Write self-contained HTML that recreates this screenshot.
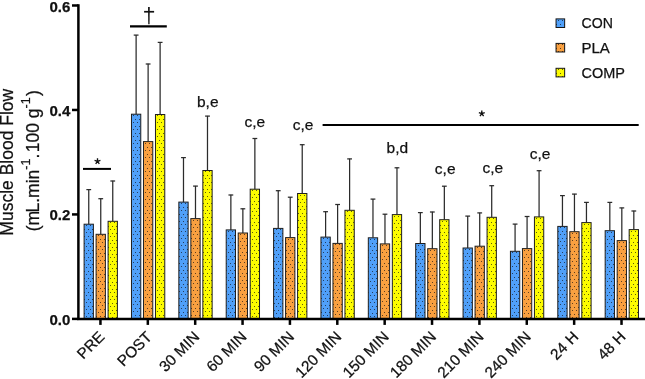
<!DOCTYPE html>
<html><head><meta charset="utf-8"><style>
html,body{margin:0;padding:0;background:#fff;}
body{width:645px;height:379px;overflow:hidden;}
svg{display:block;will-change:transform;font-family:"Liberation Sans",sans-serif;fill:#111;}
text{fill:#111;stroke:#111;stroke-width:0.25px;}
</style></head><body>
<svg width="645" height="379" viewBox="0 0 645 379">
<defs>
<pattern id="p0" width="4" height="7" patternUnits="userSpaceOnUse"><rect width="4" height="7" fill="#50a0f9"/><rect x="2" y="1" width="1" height="1" fill="#101010" opacity="0.68"/><rect x="0" y="5" width="1" height="1" fill="#101010" opacity="0.68"/></pattern>
<pattern id="p1" width="4" height="7" patternUnits="userSpaceOnUse"><rect width="4" height="7" fill="#f9a040"/><rect x="2" y="1" width="1" height="1" fill="#101010" opacity="0.68"/><rect x="0" y="5" width="1" height="1" fill="#101010" opacity="0.68"/></pattern>
<pattern id="p2" width="4" height="7" patternUnits="userSpaceOnUse"><rect width="4" height="7" fill="#fdfc00"/><rect x="2" y="1" width="1" height="1" fill="#101010" opacity="0.68"/><rect x="0" y="5" width="1" height="1" fill="#101010" opacity="0.68"/></pattern>
</defs>
<rect transform="translate(84,224)" x="0.1" y="0.2" width="9.3" height="94.7" fill="url(#p0)" stroke="#1e1e1e" stroke-width="1"/>
<line x1="88.75" y1="224.2" x2="88.75" y2="189.4" stroke="#2b2b2b" stroke-width="1.25"/>
<line x1="86.35" y1="189.6" x2="91.15" y2="189.6" stroke="#2b2b2b" stroke-width="1.25"/>
<rect transform="translate(96,234)" x="0.1" y="0.3" width="9.3" height="84.6" fill="url(#p1)" stroke="#1e1e1e" stroke-width="1"/>
<line x1="100.75" y1="234.3" x2="100.75" y2="198.5" stroke="#2b2b2b" stroke-width="1.25"/>
<line x1="98.35" y1="198.7" x2="103.15" y2="198.7" stroke="#2b2b2b" stroke-width="1.25"/>
<rect transform="translate(108,221)" x="0.1" y="0.3" width="9.3" height="97.6" fill="url(#p2)" stroke="#1e1e1e" stroke-width="1"/>
<line x1="112.75" y1="221.3" x2="112.75" y2="180.8" stroke="#2b2b2b" stroke-width="1.25"/>
<line x1="110.35" y1="181" x2="115.15" y2="181" stroke="#2b2b2b" stroke-width="1.25"/>
<rect transform="translate(131,114)" x="0.47" y="0.2" width="9.3" height="204.7" fill="url(#p0)" stroke="#1e1e1e" stroke-width="1"/>
<line x1="136.12" y1="114.2" x2="136.12" y2="34.9" stroke="#2b2b2b" stroke-width="1.25"/>
<line x1="133.72" y1="35.1" x2="138.52" y2="35.1" stroke="#2b2b2b" stroke-width="1.25"/>
<rect transform="translate(143,142)" x="0.47" y="-0.4" width="9.3" height="177.3" fill="url(#p1)" stroke="#1e1e1e" stroke-width="1"/>
<line x1="148.12" y1="141.6" x2="148.12" y2="63.8" stroke="#2b2b2b" stroke-width="1.25"/>
<line x1="145.72" y1="64" x2="150.52" y2="64" stroke="#2b2b2b" stroke-width="1.25"/>
<rect transform="translate(155,114)" x="0.47" y="0.5" width="9.3" height="204.4" fill="url(#p2)" stroke="#1e1e1e" stroke-width="1"/>
<line x1="160.12" y1="114.5" x2="160.12" y2="42.2" stroke="#2b2b2b" stroke-width="1.25"/>
<line x1="157.72" y1="42.4" x2="162.52" y2="42.4" stroke="#2b2b2b" stroke-width="1.25"/>
<rect transform="translate(179,202)" x="-0.16" y="0.1" width="9.3" height="116.8" fill="url(#p0)" stroke="#1e1e1e" stroke-width="1"/>
<line x1="183.49" y1="202.1" x2="183.49" y2="157.4" stroke="#2b2b2b" stroke-width="1.25"/>
<line x1="181.09" y1="157.6" x2="185.89" y2="157.6" stroke="#2b2b2b" stroke-width="1.25"/>
<rect transform="translate(191,219)" x="-0.16" y="-0.4" width="9.3" height="100.3" fill="url(#p1)" stroke="#1e1e1e" stroke-width="1"/>
<line x1="195.49" y1="218.6" x2="195.49" y2="185.9" stroke="#2b2b2b" stroke-width="1.25"/>
<line x1="193.09" y1="186.1" x2="197.89" y2="186.1" stroke="#2b2b2b" stroke-width="1.25"/>
<rect transform="translate(203,170)" x="-0.16" y="0.5" width="9.3" height="148.4" fill="url(#p2)" stroke="#1e1e1e" stroke-width="1"/>
<line x1="207.49" y1="170.5" x2="207.49" y2="115.9" stroke="#2b2b2b" stroke-width="1.25"/>
<line x1="205.09" y1="116.1" x2="209.89" y2="116.1" stroke="#2b2b2b" stroke-width="1.25"/>
<rect transform="translate(226,230)" x="0.21" y="-0.1" width="9.3" height="89" fill="url(#p0)" stroke="#1e1e1e" stroke-width="1"/>
<line x1="230.86" y1="229.9" x2="230.86" y2="194.8" stroke="#2b2b2b" stroke-width="1.25"/>
<line x1="228.46" y1="195" x2="233.26" y2="195" stroke="#2b2b2b" stroke-width="1.25"/>
<rect transform="translate(238,233)" x="0.21" y="0" width="9.3" height="85.9" fill="url(#p1)" stroke="#1e1e1e" stroke-width="1"/>
<line x1="242.86" y1="233" x2="242.86" y2="208.6" stroke="#2b2b2b" stroke-width="1.25"/>
<line x1="240.46" y1="208.8" x2="245.26" y2="208.8" stroke="#2b2b2b" stroke-width="1.25"/>
<rect transform="translate(250,189)" x="0.21" y="0.2" width="9.3" height="129.7" fill="url(#p2)" stroke="#1e1e1e" stroke-width="1"/>
<line x1="254.86" y1="189.2" x2="254.86" y2="138.3" stroke="#2b2b2b" stroke-width="1.25"/>
<line x1="252.46" y1="138.5" x2="257.26" y2="138.5" stroke="#2b2b2b" stroke-width="1.25"/>
<rect transform="translate(274,228)" x="-0.42" y="0.4" width="9.3" height="90.5" fill="url(#p0)" stroke="#1e1e1e" stroke-width="1"/>
<line x1="278.23" y1="228.4" x2="278.23" y2="190.5" stroke="#2b2b2b" stroke-width="1.25"/>
<line x1="275.83" y1="190.7" x2="280.63" y2="190.7" stroke="#2b2b2b" stroke-width="1.25"/>
<rect transform="translate(286,238)" x="-0.42" y="-0.4" width="9.3" height="81.3" fill="url(#p1)" stroke="#1e1e1e" stroke-width="1"/>
<line x1="290.23" y1="237.6" x2="290.23" y2="197" stroke="#2b2b2b" stroke-width="1.25"/>
<line x1="287.83" y1="197.2" x2="292.63" y2="197.2" stroke="#2b2b2b" stroke-width="1.25"/>
<rect transform="translate(298,194)" x="-0.42" y="-0.5" width="9.3" height="125.4" fill="url(#p2)" stroke="#1e1e1e" stroke-width="1"/>
<line x1="302.23" y1="193.5" x2="302.23" y2="144.5" stroke="#2b2b2b" stroke-width="1.25"/>
<line x1="299.83" y1="144.7" x2="304.63" y2="144.7" stroke="#2b2b2b" stroke-width="1.25"/>
<rect transform="translate(321,237)" x="-0.05" y="0.1" width="9.3" height="81.8" fill="url(#p0)" stroke="#1e1e1e" stroke-width="1"/>
<line x1="325.6" y1="237.1" x2="325.6" y2="211.5" stroke="#2b2b2b" stroke-width="1.25"/>
<line x1="323.2" y1="211.7" x2="328" y2="211.7" stroke="#2b2b2b" stroke-width="1.25"/>
<rect transform="translate(333,243)" x="-0.05" y="0.4" width="9.3" height="75.5" fill="url(#p1)" stroke="#1e1e1e" stroke-width="1"/>
<line x1="337.6" y1="243.4" x2="337.6" y2="204.3" stroke="#2b2b2b" stroke-width="1.25"/>
<line x1="335.2" y1="204.5" x2="340" y2="204.5" stroke="#2b2b2b" stroke-width="1.25"/>
<rect transform="translate(345,210)" x="-0.05" y="0.3" width="9.3" height="108.6" fill="url(#p2)" stroke="#1e1e1e" stroke-width="1"/>
<line x1="349.6" y1="210.3" x2="349.6" y2="158.7" stroke="#2b2b2b" stroke-width="1.25"/>
<line x1="347.2" y1="158.9" x2="352" y2="158.9" stroke="#2b2b2b" stroke-width="1.25"/>
<rect transform="translate(368,238)" x="0.32" y="-0.2" width="9.3" height="81.1" fill="url(#p0)" stroke="#1e1e1e" stroke-width="1"/>
<line x1="372.97" y1="237.8" x2="372.97" y2="198.9" stroke="#2b2b2b" stroke-width="1.25"/>
<line x1="370.57" y1="199.1" x2="375.37" y2="199.1" stroke="#2b2b2b" stroke-width="1.25"/>
<rect transform="translate(380,244)" x="0.32" y="-0.1" width="9.3" height="75" fill="url(#p1)" stroke="#1e1e1e" stroke-width="1"/>
<line x1="384.97" y1="243.9" x2="384.97" y2="214" stroke="#2b2b2b" stroke-width="1.25"/>
<line x1="382.57" y1="214.2" x2="387.37" y2="214.2" stroke="#2b2b2b" stroke-width="1.25"/>
<rect transform="translate(392,215)" x="0.32" y="-0.4" width="9.3" height="104.3" fill="url(#p2)" stroke="#1e1e1e" stroke-width="1"/>
<line x1="396.97" y1="214.6" x2="396.97" y2="167.6" stroke="#2b2b2b" stroke-width="1.25"/>
<line x1="394.57" y1="167.8" x2="399.37" y2="167.8" stroke="#2b2b2b" stroke-width="1.25"/>
<rect transform="translate(416,244)" x="-0.31" y="-0.5" width="9.3" height="75.4" fill="url(#p0)" stroke="#1e1e1e" stroke-width="1"/>
<line x1="420.34" y1="243.5" x2="420.34" y2="212.4" stroke="#2b2b2b" stroke-width="1.25"/>
<line x1="417.94" y1="212.6" x2="422.74" y2="212.6" stroke="#2b2b2b" stroke-width="1.25"/>
<rect transform="translate(428,249)" x="-0.31" y="-0.3" width="9.3" height="70.2" fill="url(#p1)" stroke="#1e1e1e" stroke-width="1"/>
<line x1="432.34" y1="248.7" x2="432.34" y2="211.8" stroke="#2b2b2b" stroke-width="1.25"/>
<line x1="429.94" y1="212" x2="434.74" y2="212" stroke="#2b2b2b" stroke-width="1.25"/>
<rect transform="translate(440,220)" x="-0.31" y="-0.3" width="9.3" height="99.2" fill="url(#p2)" stroke="#1e1e1e" stroke-width="1"/>
<line x1="444.34" y1="219.7" x2="444.34" y2="186" stroke="#2b2b2b" stroke-width="1.25"/>
<line x1="441.94" y1="186.2" x2="446.74" y2="186.2" stroke="#2b2b2b" stroke-width="1.25"/>
<rect transform="translate(463,248)" x="0.06" y="0" width="9.3" height="70.9" fill="url(#p0)" stroke="#1e1e1e" stroke-width="1"/>
<line x1="467.71" y1="248" x2="467.71" y2="215.9" stroke="#2b2b2b" stroke-width="1.25"/>
<line x1="465.31" y1="216.1" x2="470.11" y2="216.1" stroke="#2b2b2b" stroke-width="1.25"/>
<rect transform="translate(475,246)" x="0.06" y="0.2" width="9.3" height="72.7" fill="url(#p1)" stroke="#1e1e1e" stroke-width="1"/>
<line x1="479.71" y1="246.2" x2="479.71" y2="212.7" stroke="#2b2b2b" stroke-width="1.25"/>
<line x1="477.31" y1="212.9" x2="482.11" y2="212.9" stroke="#2b2b2b" stroke-width="1.25"/>
<rect transform="translate(487,217)" x="0.06" y="0.3" width="9.3" height="101.6" fill="url(#p2)" stroke="#1e1e1e" stroke-width="1"/>
<line x1="491.71" y1="217.3" x2="491.71" y2="185.5" stroke="#2b2b2b" stroke-width="1.25"/>
<line x1="489.31" y1="185.7" x2="494.11" y2="185.7" stroke="#2b2b2b" stroke-width="1.25"/>
<rect transform="translate(510,251)" x="0.43" y="0.3" width="9.3" height="67.6" fill="url(#p0)" stroke="#1e1e1e" stroke-width="1"/>
<line x1="515.08" y1="251.3" x2="515.08" y2="223.9" stroke="#2b2b2b" stroke-width="1.25"/>
<line x1="512.68" y1="224.1" x2="517.48" y2="224.1" stroke="#2b2b2b" stroke-width="1.25"/>
<rect transform="translate(522,249)" x="0.43" y="-0.4" width="9.3" height="70.3" fill="url(#p1)" stroke="#1e1e1e" stroke-width="1"/>
<line x1="527.08" y1="248.6" x2="527.08" y2="216.3" stroke="#2b2b2b" stroke-width="1.25"/>
<line x1="524.68" y1="216.5" x2="529.48" y2="216.5" stroke="#2b2b2b" stroke-width="1.25"/>
<rect transform="translate(534,217)" x="0.43" y="-0.1" width="9.3" height="102" fill="url(#p2)" stroke="#1e1e1e" stroke-width="1"/>
<line x1="539.08" y1="216.9" x2="539.08" y2="170.5" stroke="#2b2b2b" stroke-width="1.25"/>
<line x1="536.68" y1="170.7" x2="541.48" y2="170.7" stroke="#2b2b2b" stroke-width="1.25"/>
<rect transform="translate(558,226)" x="-0.2" y="0.4" width="9.3" height="92.5" fill="url(#p0)" stroke="#1e1e1e" stroke-width="1"/>
<line x1="562.45" y1="226.4" x2="562.45" y2="195.4" stroke="#2b2b2b" stroke-width="1.25"/>
<line x1="560.05" y1="195.6" x2="564.85" y2="195.6" stroke="#2b2b2b" stroke-width="1.25"/>
<rect transform="translate(570,232)" x="-0.2" y="-0.3" width="9.3" height="87.2" fill="url(#p1)" stroke="#1e1e1e" stroke-width="1"/>
<line x1="574.45" y1="231.7" x2="574.45" y2="193.9" stroke="#2b2b2b" stroke-width="1.25"/>
<line x1="572.05" y1="194.1" x2="576.85" y2="194.1" stroke="#2b2b2b" stroke-width="1.25"/>
<rect transform="translate(582,223)" x="-0.2" y="-0.4" width="9.3" height="96.3" fill="url(#p2)" stroke="#1e1e1e" stroke-width="1"/>
<line x1="586.45" y1="222.6" x2="586.45" y2="202.2" stroke="#2b2b2b" stroke-width="1.25"/>
<line x1="584.05" y1="202.4" x2="588.85" y2="202.4" stroke="#2b2b2b" stroke-width="1.25"/>
<rect transform="translate(605,231)" x="0.17" y="-0.3" width="9.3" height="88.2" fill="url(#p0)" stroke="#1e1e1e" stroke-width="1"/>
<line x1="609.82" y1="230.7" x2="609.82" y2="202.2" stroke="#2b2b2b" stroke-width="1.25"/>
<line x1="607.42" y1="202.4" x2="612.22" y2="202.4" stroke="#2b2b2b" stroke-width="1.25"/>
<rect transform="translate(617,241)" x="0.17" y="-0.4" width="9.3" height="78.3" fill="url(#p1)" stroke="#1e1e1e" stroke-width="1"/>
<line x1="621.82" y1="240.6" x2="621.82" y2="207.7" stroke="#2b2b2b" stroke-width="1.25"/>
<line x1="619.42" y1="207.9" x2="624.22" y2="207.9" stroke="#2b2b2b" stroke-width="1.25"/>
<rect transform="translate(629,230)" x="0.17" y="-0.4" width="9.3" height="89.3" fill="url(#p2)" stroke="#1e1e1e" stroke-width="1"/>
<line x1="633.82" y1="229.6" x2="633.82" y2="210.8" stroke="#2b2b2b" stroke-width="1.25"/>
<line x1="631.42" y1="211" x2="636.22" y2="211" stroke="#2b2b2b" stroke-width="1.25"/>
<line x1="78.4" y1="4.3" x2="78.4" y2="320.1" stroke="#000" stroke-width="2.5"/>
<line x1="77.15" y1="318.9" x2="645" y2="318.9" stroke="#000" stroke-width="2.5"/>
<line x1="72" y1="318.9" x2="78.4" y2="318.9" stroke="#000" stroke-width="2.5"/>
<text x="70.3" y="324.9" text-anchor="end" font-weight="bold" font-size="15">0.0</text>
<line x1="72" y1="214.43" x2="78.4" y2="214.43" stroke="#000" stroke-width="2.5"/>
<text x="70.3" y="220.43" text-anchor="end" font-weight="bold" font-size="15">0.2</text>
<line x1="72" y1="109.96" x2="78.4" y2="109.96" stroke="#000" stroke-width="2.5"/>
<text x="70.3" y="115.96" text-anchor="end" font-weight="bold" font-size="15">0.4</text>
<line x1="72" y1="5.49" x2="78.4" y2="5.49" stroke="#000" stroke-width="2.5"/>
<text x="70.3" y="11.49" text-anchor="end" font-weight="bold" font-size="15">0.6</text>
<line x1="100.45" y1="318.9" x2="100.45" y2="324.9" stroke="#000" stroke-width="2.5"/>
<text transform="translate(105.55,337.8) rotate(-45)" text-anchor="end" font-size="15.3">PRE</text>
<line x1="147.82" y1="318.9" x2="147.82" y2="324.9" stroke="#000" stroke-width="2.5"/>
<text transform="translate(152.92,337.8) rotate(-45)" text-anchor="end" font-size="15.3">POST</text>
<line x1="195.19" y1="318.9" x2="195.19" y2="324.9" stroke="#000" stroke-width="2.5"/>
<text transform="translate(200.29,337.8) rotate(-45)" text-anchor="end" font-size="15.3">30 MIN</text>
<line x1="242.56" y1="318.9" x2="242.56" y2="324.9" stroke="#000" stroke-width="2.5"/>
<text transform="translate(247.66,337.8) rotate(-45)" text-anchor="end" font-size="15.3">60 MIN</text>
<line x1="289.93" y1="318.9" x2="289.93" y2="324.9" stroke="#000" stroke-width="2.5"/>
<text transform="translate(295.03,337.8) rotate(-45)" text-anchor="end" font-size="15.3">90 MIN</text>
<line x1="337.3" y1="318.9" x2="337.3" y2="324.9" stroke="#000" stroke-width="2.5"/>
<text transform="translate(342.4,337.8) rotate(-45)" text-anchor="end" font-size="15.3">120 MIN</text>
<line x1="384.67" y1="318.9" x2="384.67" y2="324.9" stroke="#000" stroke-width="2.5"/>
<text transform="translate(389.77,337.8) rotate(-45)" text-anchor="end" font-size="15.3">150 MIN</text>
<line x1="432.04" y1="318.9" x2="432.04" y2="324.9" stroke="#000" stroke-width="2.5"/>
<text transform="translate(437.14,337.8) rotate(-45)" text-anchor="end" font-size="15.3">180 MIN</text>
<line x1="479.41" y1="318.9" x2="479.41" y2="324.9" stroke="#000" stroke-width="2.5"/>
<text transform="translate(484.51,337.8) rotate(-45)" text-anchor="end" font-size="15.3">210 MIN</text>
<line x1="526.78" y1="318.9" x2="526.78" y2="324.9" stroke="#000" stroke-width="2.5"/>
<text transform="translate(531.88,337.8) rotate(-45)" text-anchor="end" font-size="15.3">240 MIN</text>
<line x1="574.15" y1="318.9" x2="574.15" y2="324.9" stroke="#000" stroke-width="2.5"/>
<text transform="translate(579.25,337.8) rotate(-45)" text-anchor="end" font-size="15.3">24 H</text>
<line x1="621.52" y1="318.9" x2="621.52" y2="324.9" stroke="#000" stroke-width="2.5"/>
<text transform="translate(626.62,337.8) rotate(-45)" text-anchor="end" font-size="15.3">48 H</text>
<text transform="translate(12.8,162.2) rotate(-90)" text-anchor="middle" font-size="17.5">Muscle Blood Flow</text>
<text transform="translate(39.3,160.7) rotate(-90)" text-anchor="middle" font-size="17.5">(m<tspan dx="-1.6">L.min</tspan><tspan dy="-9.5" font-size="12.5">-1</tspan><tspan dy="9.5">.</tspan><tspan dx="1.4">100 g</tspan><tspan dy="-9.5" font-size="12.5">-1</tspan><tspan dy="9.5" dx="1.5">)</tspan></text>
<line x1="83" y1="168.9" x2="111" y2="168.9" stroke="#000" stroke-width="2"/>
<path d="M97.5 161.3L97.5 158.2M97.5 161.3L100.45 160.34M97.5 161.3L99.32 163.81M97.5 161.3L95.68 163.81M97.5 161.3L94.55 160.34" stroke="#111" stroke-width="1.35" fill="none"/>
<line x1="130" y1="26.4" x2="166.8" y2="26.4" stroke="#000" stroke-width="2.1"/>
<path d="M148.05 7H149.75L149.55 24.3H148.25Z" fill="#111"/>
<rect x="144.1" y="10.9" width="10" height="1.7" fill="#111"/>
<line x1="322.6" y1="124.9" x2="638.7" y2="124.9" stroke="#000" stroke-width="2"/>
<path d="M481.8 113.6L481.8 110.5M481.8 113.6L484.75 112.64M481.8 113.6L483.62 116.11M481.8 113.6L479.98 116.11M481.8 113.6L478.85 112.64" stroke="#111" stroke-width="1.35" fill="none"/>
<text x="207.75" y="107" text-anchor="middle" font-size="15.5">b,e</text>
<text x="254.9" y="126.9" text-anchor="middle" font-size="15.5">c,e</text>
<text x="303" y="129.8" text-anchor="middle" font-size="15.5">c,e</text>
<text x="397.35" y="152.7" text-anchor="middle" font-size="15.5">b,d</text>
<text x="445.2" y="174.3" text-anchor="middle" font-size="15.5">c,e</text>
<text x="492.8" y="173" text-anchor="middle" font-size="15.5">c,e</text>
<text x="540" y="158.6" text-anchor="middle" font-size="15.5">c,e</text>
<rect transform="translate(556,19)" x="0.05" y="-0.1" width="8.6" height="8.6" fill="url(#p0)" stroke="#151515" stroke-width="1"/>
<text x="581.5" y="28.3" font-size="15" textLength="31.4" lengthAdjust="spacingAndGlyphs">CON</text>
<rect transform="translate(556,43)" x="0.05" y="0.4" width="8.6" height="8.6" fill="url(#p1)" stroke="#151515" stroke-width="1"/>
<text x="581.5" y="52.8" font-size="15">PLA</text>
<rect transform="translate(556,68)" x="0.05" y="0.3" width="8.6" height="8.6" fill="url(#p2)" stroke="#151515" stroke-width="1"/>
<text x="581.5" y="77.7" font-size="15" textLength="43.4" lengthAdjust="spacingAndGlyphs">COMP</text>
</svg>
</body></html>
